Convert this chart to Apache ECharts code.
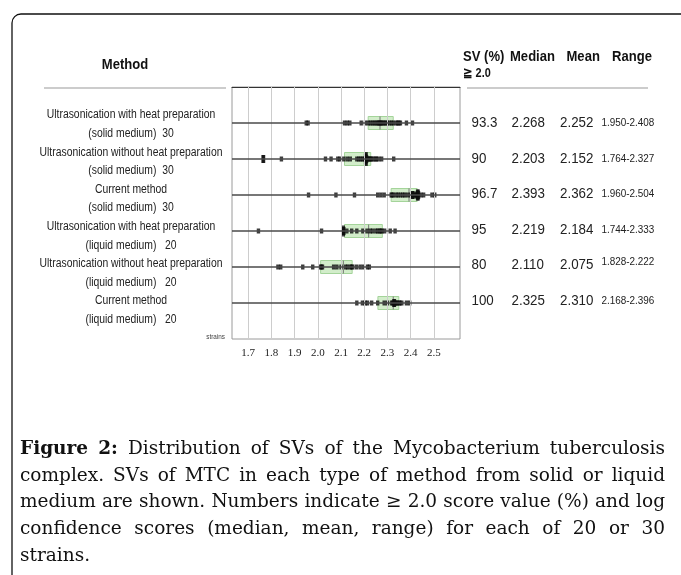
<!DOCTYPE html>
<html>
<head>
<meta charset="utf-8">
<script src="https://cdn.jsdelivr.net/npm/echarts@6/dist/echarts.min.js"></script>
<style>
  html, body { margin: 0; padding: 0; background: #fff; }
  #chart { width: 681px; height: 575px; }
</style>
</head>
<body>
<div id="chart"></div>
<script>
// methods (row order top to bottom)
const methods = [
  'Ultrasonication with heat preparation',
  'Ultrasonication without heat preparation',
  'Current method',
  'Ultrasonication with heat preparation',
  'Ultrasonication without heat preparation',
  'Current method'
]
const media = ['(solid medium)', '(solid medium)', '(solid medium)', '(liquid medium)', '(liquid medium)', '(liquid medium)']
const strainCounts = [30, 30, 30, 20, 20, 20]

// table columns
const svPct = ['93.3', '90', '96.7', '95', '80', '100']
const medians = [2.268, 2.203, 2.393, 2.219, 2.110, 2.325]
const means = [2.252, 2.152, 2.362, 2.184, 2.075, 2.310]
const ranges = ['1.950-2.408', '1.764-2.327', '1.960-2.504', '1.744-2.333', '1.828-2.222', '2.168-2.396']

// box edges
const q1 = [2.217, 2.115, 2.316, 2.115, 2.012, 2.259]
const q3 = [2.325, 2.228, 2.428, 2.278, 2.148, 2.349]

// individual score values per method
const scores = [
  [1.950, 1.958, 2.115, 2.127, 2.138, 2.187, 2.205, 2.218, 2.226, 2.235, 2.242, 2.250, 2.256, 2.262, 2.266,
   2.270, 2.274, 2.280, 2.286, 2.292, 2.300, 2.310, 2.318, 2.326, 2.338, 2.344, 2.350, 2.356, 2.382, 2.408],
  [1.764, 1.766, 1.843, 2.033, 2.057, 2.086, 2.095, 2.112, 2.127, 2.140, 2.168, 2.176, 2.184, 2.192, 2.200,
   2.206, 2.206, 2.208, 2.210, 2.214, 2.218, 2.222, 2.226, 2.232, 2.238, 2.248, 2.252, 2.262, 2.275, 2.327],
  [1.960, 2.078, 2.158, 2.258, 2.272, 2.286, 2.316, 2.320, 2.326, 2.338, 2.346, 2.356, 2.366, 2.374, 2.386,
   2.400, 2.404, 2.408, 2.410, 2.416, 2.420, 2.424, 2.428, 2.430, 2.432, 2.434, 2.444, 2.456, 2.492, 2.504],
  [1.744, 2.016, 2.108, 2.110, 2.112, 2.125, 2.146, 2.168, 2.194, 2.212,
   2.226, 2.236, 2.250, 2.258, 2.266, 2.272, 2.276, 2.288, 2.312, 2.333],
  [1.828, 1.840, 1.935, 1.978, 2.012, 2.016, 2.020, 2.068, 2.082, 2.100,
   2.120, 2.128, 2.140, 2.146, 2.150, 2.166, 2.182, 2.196, 2.214, 2.222],
  [2.168, 2.192, 2.204, 2.214, 2.232, 2.258, 2.286, 2.300, 2.318, 2.322,
   2.328, 2.330, 2.334, 2.338, 2.342, 2.350, 2.354, 2.362, 2.382, 2.396]
]

const xTicks = [1.7, 1.8, 1.9, 2.0, 2.1, 2.2, 2.3, 2.4, 2.5]

const captionLines = [
  'Figure 2: Distribution of SVs of the Mycobacterium tuberculosis',
  'complex. SVs of MTC in each type of method from solid or liquid',
  'medium are shown. Numbers indicate \u2265 2.0 score value (%) and log',
  'confidence scores (median, mean, range) for each of 20 or 30',
  'strains.'
]

const sans = '"Liberation Sans", Arial, sans-serif'
const serif = '"DejaVu Serif", serif'

const chart = echarts.init(document.getElementById('chart'))

// dots: taller mark where points pile up
const dotData = []
scores.forEach((vals, i) => {
  vals.forEach(v => {
    const near = vals.filter(u => Math.abs(u - v) < 0.0035).length - 1
    dotData.push({ value: [v, i + 1], symbolSize: [3.4, 5 + 3 * near] })
  })
})

const graphics = []
function txt(x, y, text, font, align, sx, color) {
  graphics.push({
    type: 'text', x: x, y: y, scaleX: sx || 1,
    style: { text: text, font: font, fill: color || '#1a1a1a', textAlign: align, textVerticalAlign: 'middle' }
  })
}

// outer frame
graphics.push({
  type: 'rect', z: 100, silent: true,
  shape: { x: 12, y: 14, width: 720, height: 620, r: 9 },
  style: { fill: 'none', stroke: '#111', lineWidth: 1.3 }
})

// headers
txt(125, 65, 'Method', 'bold 15px ' + sans, 'center', 0.87, '#111')
graphics.push({ type: 'line', shape: { x1: 44, y1: 88, x2: 226, y2: 88 }, style: { stroke: '#999', lineWidth: 1 } })
graphics.push({ type: 'line', shape: { x1: 467, y1: 88, x2: 648, y2: 88 }, style: { stroke: '#999', lineWidth: 1 } })
const heads = [['SV (%)', 463], ['Median', 510], ['Mean', 566.5], ['Range', 612]]
heads.forEach(([t, x]) => txt(x, 57, t, 'bold 15px ' + sans, 'left', 0.87, '#111'))
txt(463, 74, '\u2267 2.0', 'bold 12.5px ' + sans, 'left', 0.87, '#111')

// method labels
methods.forEach((m, i) => {
  txt(131, 115 + 37.2 * i, m, '12px ' + sans, 'center', 0.865, '#222')
  txt(131, 133.6 + 37.2 * i, media[i] + (i < 3 ? '  ' : '   ') + strainCounts[i], '12px ' + sans, 'center', 0.865, '#222')
})
txt(225, 337, 'strains', '7.5px ' + sans, 'right', 0.85, '#444')

// table values
svPct.forEach((s, i) => {
  const y = 123 + 35.6 * i
  txt(471.5, y, s, '14.5px ' + sans, 'left', 0.92, '#222')
  txt(511.5, y, medians[i].toFixed(3), '14.5px ' + sans, 'left', 0.92, '#222')
  txt(560, y, means[i].toFixed(3), '14.5px ' + sans, 'left', 0.92, '#222')
  txt(601.5, y - (i === 4 ? 3 : 0), ranges[i], '11px ' + sans, 'left', 0.9, '#222')
})

// justified caption
const ctx = document.createElement('canvas').getContext('2d')
const capLeft = 20, capRight = 665, capSize = 18.5
function fontFor(bold) { return (bold ? 'bold ' : '') + capSize + 'px ' + serif }
const lineWords = captionLines.map(line => line.split(' ').map((w, k) => ({ w: w, bold: k < 2 && line.startsWith('Figure') })))
ctx.font = fontFor(false)
const spaceW = ctx.measureText(' ').width
function rawWidth(words) {
  return words.reduce((s, o) => { ctx.font = fontFor(o.bold); return s + ctx.measureText(o.w).width }, 0)
}
const widest = Math.max(...lineWords.map(ws => rawWidth(ws) + spaceW * (ws.length - 1)))
const capScale = Math.min(1, (capRight - capLeft) / widest)
lineWords.forEach((ws, li) => {
  const widths = ws.map(o => { ctx.font = fontFor(o.bold); return ctx.measureText(o.w).width * capScale })
  const total = widths.reduce((a, b) => a + b, 0)
  const last = li === lineWords.length - 1
  const gap = last ? spaceW * capScale : (capRight - capLeft - total) / (ws.length - 1)
  let x = capLeft
  ws.forEach((o, k) => {
    txt(x, 449 + 26.75 * li, o.w, fontFor(o.bold), 'left', capScale, '#111')
    x += widths[k] + gap
  })
})

const option = {
  animation: false,
  grid: { left: 232, top: 87, width: 228, height: 252, show: true, borderColor: '#9a9a9a', borderWidth: 1 },
  xAxis: {
    type: 'value', min: 1.63, max: 2.6128,
    axisLine: { show: true, lineStyle: { color: '#333', width: 1 } },
    axisTick: { show: true, customValues: xTicks, length: 4, lineStyle: { color: '#777' } },
    axisLabel: { customValues: xTicks, formatter: v => v.toFixed(1), fontFamily: '"Liberation Serif", serif', fontSize: 11, color: '#222', margin: 9 },
    splitLine: { show: false }
  },
  yAxis: { type: 'value', min: 0, max: 7, inverse: true, show: false, splitLine: { show: false } },
  series: [
    {
      type: 'scatter', data: [], silent: true, z: 1,
      markLine: {
        silent: true, symbol: 'none', label: { show: false },
        lineStyle: { color: '#cdcdcd', width: 1, type: 'solid' },
        data: xTicks.map(v => ({ xAxis: v }))
      }
    },
    {
      type: 'scatter', data: [], silent: true, z: 2,
      markLine: {
        silent: true, symbol: 'none', label: { show: false },
        lineStyle: { color: '#4a4a4a', width: 1.5, type: 'solid' },
        data: methods.map((m, i) => ({ yAxis: i + 1 }))
      }
    },
    {
      type: 'custom', z: 3, silent: true,
      data: methods.map((m, i) => [q1[i], q3[i], medians[i], i + 1]),
      encode: { x: [0, 1, 2], y: 3 },
      renderItem(params, api) {
        const a = api.coord([api.value(0), api.value(3)])
        const b = api.coord([api.value(1), api.value(3)])
        const md = api.coord([api.value(2), api.value(3)])
        return {
          type: 'group',
          children: [
            { type: 'rect', shape: { x: a[0], y: a[1] - 6.5, width: b[0] - a[0], height: 13 }, style: { fill: 'rgba(165,220,150,0.5)', stroke: '#a4d49a', lineWidth: 1 } },
            { type: 'line', shape: { x1: md[0], y1: a[1] - 6.5, x2: md[0], y2: a[1] + 6.5 }, style: { stroke: '#777', lineWidth: 1 } }
          ]
        }
      }
    },
    {
      type: 'scatter', z: 4, symbol: 'rect',
      itemStyle: { color: '#0d0d0d' },
      data: dotData
    }
  ],
  graphic: graphics
}

chart.setOption(option)
</script>
</body>
</html>
